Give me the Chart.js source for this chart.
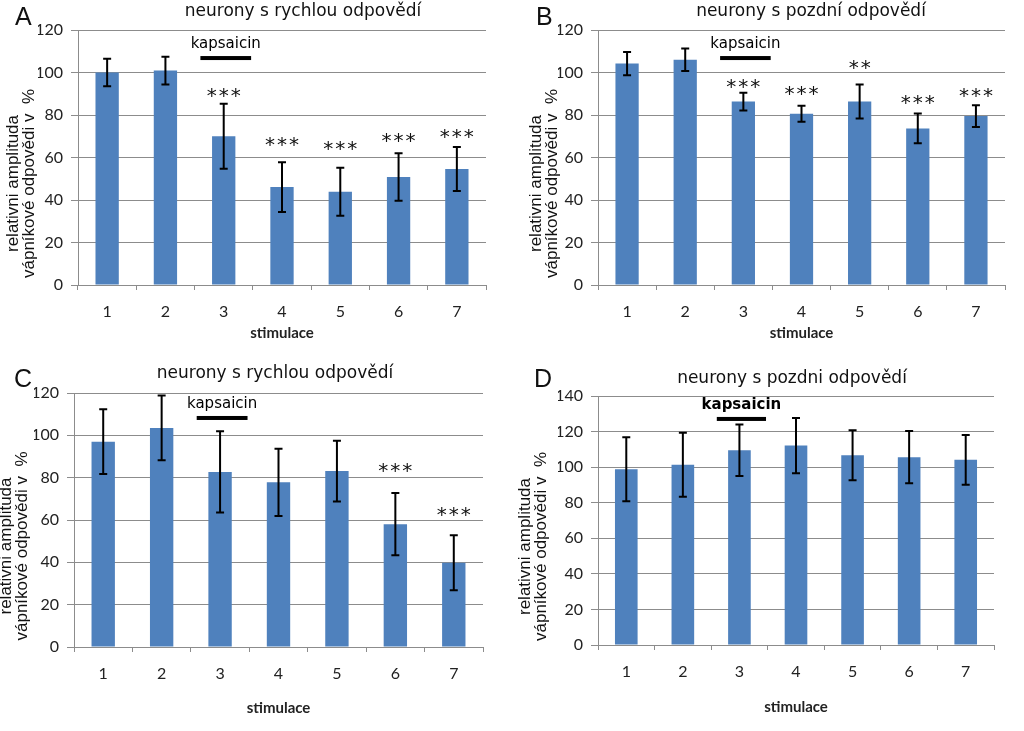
<!DOCTYPE html>
<html>
<head>
<meta charset="utf-8">
<script src="https://cdn.jsdelivr.net/npm/chart.js@4.4.0/dist/chart.umd.min.js"></script>
<style>
  body { margin: 0; background: #fff; }
  #wrap { position: relative; width: 1024px; height: 731px; overflow: hidden; }
  #wrap canvas { position: absolute; left: 0; top: 0; }
</style>
</head>
<body>
<div id="wrap">
  <canvas id="chartA" width="1024" height="731"></canvas>
  <canvas id="chartB" width="1024" height="731"></canvas>
  <canvas id="chartC" width="1024" height="731"></canvas>
  <canvas id="chartD" width="1024" height="731"></canvas>
</div>
<script>
const stimulace = ['1', '2', '3', '4', '5', '6', '7'];

// A - neurony s rychlou odpovědí
const valuesA = [100, 100.9, 70, 46.1, 43.9, 50.8, 54.6];
const errorsA = [6.5, 6.5, 15.3, 11.7, 11.3, 11.2, 10.4];
const starsA = ['', '', '***', '***', '***', '***', '***'];
const starPosA = [null, null, 92, 68.7, 66.8, 70.6, 72.5];

// B - neurony s pozdní odpovědí
const valuesB = [104.2, 106, 86.3, 80.6, 86.3, 73.7, 79.5];
const errorsB = [5.5, 5.3, 4.2, 3.8, 8, 7, 5.1];
const starsB = ['', '', '***', '***', '**', '***', '***'];
const starPosB = [null, null, 95.8, 92.5, 104.8, 88.5, 91.6];

// C - neurony s rychlou odpovědí
const valuesC = [97, 103.5, 82.7, 77.8, 83.1, 58, 39.8];
const errorsC = [15.3, 15.3, 19.2, 15.9, 14.4, 14.7, 13];
const starsC = ['', '', '', '', '', '***', '***'];
const starPosC = [null, null, null, null, null, 85.8, 65.2];

// D - neurony s pozdni odpovědí
const valuesD = [98.8, 101.3, 109.5, 112.1, 106.7, 105.6, 104.1];
const errorsD = [18, 18, 14.5, 15.6, 14, 14.7, 14];
const starsD = ['', '', '', '', '', '', ''];
const starPosD = [null, null, null, null, null, null, null];

const yTitle = ['relativni amplituda', 'vápníkové odpovědi v  %'];

const blue = '#4F81BD';
const gridGray = '#8c8c8c';

function makeAnnotator(p) {
    return {
        id: 'annotate' + p.letter,
        afterDatasetsDraw(chart) {
            const ctx = chart.ctx;
            const xs = chart.scales.x, ys = chart.scales.y;
            const area = chart.chartArea;
            ctx.save();

            // error bars
            ctx.strokeStyle = '#000';
            ctx.lineWidth = 2;
            p.values.forEach((v, i) => {
                const px = xs.getPixelForValue(i);
                const top = ys.getPixelForValue(v + p.errors[i]);
                const bot = ys.getPixelForValue(v - p.errors[i]);
                ctx.beginPath();
                ctx.moveTo(px, top); ctx.lineTo(px, bot);
                ctx.moveTo(px - 4, top); ctx.lineTo(px + 4, top);
                ctx.moveTo(px - 4, bot); ctx.lineTo(px + 4, bot);
                ctx.stroke();
            });

            // significance stars
            ctx.fillStyle = '#111';
            ctx.font = '20px "DejaVu Sans"';
            ctx.textAlign = 'center';
            ctx.textBaseline = 'alphabetic';
            p.stars.forEach((s, i) => {
                if (!s) return;
                ctx.fillText(s.split('').join('\u200A'), xs.getPixelForValue(i), ys.getPixelForValue(p.starPos[i]) + 12);
            });

            // kapsaicin bar
            const kx1 = xs.getPixelForValue(2 - 0.4);
            const kx2 = xs.getPixelForValue(2 + 0.47);
            const ky = ys.getPixelForValue(p.kapsY);
            ctx.fillStyle = '#000';
            ctx.fillRect(kx1, ky - 2, kx2 - kx1, 4);
            ctx.font = (p.kapsBold ? 'bold ' : '') + '15px "DejaVu Sans"';
            ctx.fillText('kapsaicin', (kx1 + kx2) / 2, ky - 10);

            // panel title and letter
            ctx.fillStyle = '#111';
            ctx.font = '17px "DejaVu Sans"';
            ctx.fillText(p.title, p.titlePos[0], p.titlePos[1]);
            ctx.textAlign = 'left';
            ctx.font = '25px "Liberation Sans"';
            ctx.fillText(p.letter, p.letterPos[0], p.letterPos[1]);

            // y axis title, two rotated lines
            ctx.font = '17px "Liberation Sans"';
            ctx.textAlign = 'center';
            ctx.textBaseline = 'middle';
            const cy = (area.top + area.bottom) / 2 + 26;
            yTitle.forEach((t, k) => {
                ctx.save();
                ctx.translate(area.left + p.yTitleDx + k * 16, cy);
                ctx.rotate(-Math.PI / 2);
                ctx.fillText(t, 0, 0);
                ctx.restore();
            });
            ctx.restore();
        }
    };
}

function makePanel(canvasId, p) {
    const yW = 40;
    const [l, t, r, b] = p.area;
    return new Chart(document.getElementById(canvasId).getContext('2d'), {
        type: 'bar',
        data: {
            labels: stimulace,
            datasets: [{
                data: p.values,
                backgroundColor: blue,
                barPercentage: 0.4,
                categoryPercentage: 1
            }]
        },
        options: {
            responsive: false,
            animation: false,
            layout: {
                padding: { left: l - yW, top: t, right: 1024 - r, bottom: 731 - b - p.xH }
            },
            scales: {
                x: {
                    grid: {
                        offset: true,
                        drawOnChartArea: false,
                        drawTicks: true,
                        tickLength: 5,
                        color: gridGray
                    },
                    border: { display: true, color: gridGray },
                    ticks: {
                        color: '#222',
                        padding: 12,
                        font: { family: 'Lato', size: 16 }
                    },
                    title: {
                        display: true,
                        text: 'stimulace',
                        color: '#222',
                        padding: 0,
                        font: { family: 'Lato', size: 15, weight: 'bold' }
                    },
                    afterFit(scale) { scale.height = p.xH; }
                },
                y: {
                    min: 0,
                    max: p.yMax,
                    ticks: {
                        stepSize: 20,
                        color: '#222',
                        padding: 8,
                        font: { family: 'Lato', size: 16 }
                    },
                    grid: { color: gridGray, tickLength: 7 },
                    border: { display: true, color: gridGray },
                    afterFit(scale) { scale.width = yW; }
                }
            },
            plugins: {
                legend: { display: false },
                tooltip: { enabled: false }
            }
        },
        plugins: [makeAnnotator(p)]
    });
}

makePanel('chartA', {
    letter: 'A', title: 'neurony s rychlou odpovědí',
    values: valuesA, errors: errorsA, stars: starsA, starPos: starPosA,
    area: [78, 30, 486, 285], yMax: 120, xH: 57, kapsY: 106.8,
    titlePos: [303, 16], letterPos: [15, 25], yTitleDx: -65
});
makePanel('chartB', {
    letter: 'B', title: 'neurony s pozdní odpovědí',
    values: valuesB, errors: errorsB, stars: starsB, starPos: starPosB,
    area: [598, 30, 1005, 285], yMax: 120, xH: 57, kapsY: 106.8,
    titlePos: [811, 16], letterPos: [536, 25], yTitleDx: -62
});
makePanel('chartC', {
    letter: 'C', title: 'neurony s rychlou odpovědí',
    values: valuesC, errors: errorsC, stars: starsC, starPos: starPosC,
    area: [74, 393, 483, 647], yMax: 120, xH: 70, kapsY: 108.2,
    titlePos: [275, 378], letterPos: [14, 387], yTitleDx: -68
});
makePanel('chartD', {
    letter: 'D', title: 'neurony s pozdni odpovědí',
    values: valuesD, errors: errorsD, stars: starsD, starPos: starPosD,
    area: [598, 396, 994, 645], yMax: 140, xH: 71, kapsY: 127.1, kapsBold: true,
    titlePos: [792, 383], letterPos: [534, 387], yTitleDx: -73
});
</script>
</body>
</html>
